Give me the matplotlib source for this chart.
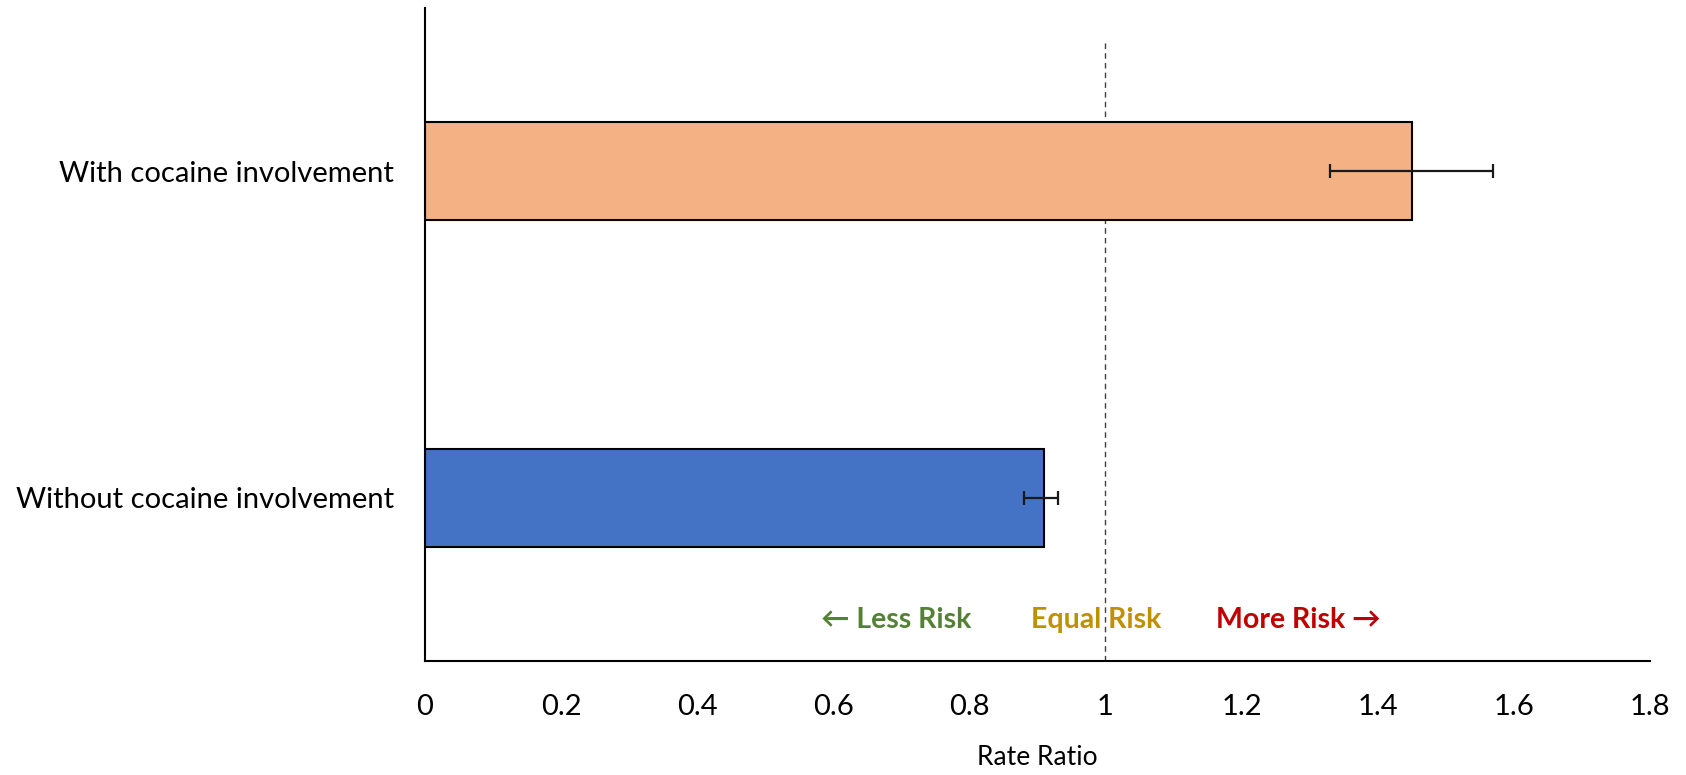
import matplotlib.pyplot as plt

# chart data
categories = ["Without cocaine involvement", "With cocaine involvement"]
rate_ratio = [0.91, 1.45]
ci_low = [0.88, 1.33]
ci_high = [0.93, 1.57]
bar_colors = ["#4472C4", "#F4B183"]
x_ticks = [0, 0.2, 0.4, 0.6, 0.8, 1, 1.2, 1.4, 1.6, 1.8]

plt.rcParams["font.family"] = ["Lato", "DejaVu Sans"]

fig = plt.figure(figsize=(16.86, 7.75), dpi=100)
ax = fig.add_axes([0.252, 0.147, 0.9786 - 0.252, 0.9897 - 0.147])

ypos = range(len(categories))
xerr = [[v - lo for v, lo in zip(rate_ratio, ci_low)],
        [hi - v for v, hi in zip(rate_ratio, ci_high)]]
ax.barh(ypos, rate_ratio, height=0.3, color=bar_colors,
        edgecolor="black", linewidth=1.5, zorder=2)
ax.errorbar(rate_ratio, ypos, xerr=xerr, fmt="none", ecolor="#1a1a1a",
            elinewidth=1.6, capsize=5, capthick=1.6, zorder=3)

# reference line at equal risk
ax.vlines(1, -0.5, 1.4, colors="#404040", linestyles=(0, (4, 3)),
          linewidth=1, zorder=1)

ax.set_xlim(0, 1.8)
ax.set_ylim(-0.5, 1.5)
ax.set_yticks(list(ypos))
ax.set_yticklabels(categories)
ax.set_xticks(x_ticks)
ax.set_xticklabels([f"{t:g}" for t in x_ticks])
ax.tick_params(length=0, labelsize=21)
ax.tick_params(axis="x", pad=24)
ax.tick_params(axis="y", pad=22)
ax.set_xlabel("Rate Ratio", fontsize=19, va="center")
ax.xaxis.set_label_coords(0.5, -0.148)

for s in ["top", "right"]:
    ax.spines[s].set_visible(False)
for s in ["left", "bottom"]:
    ax.spines[s].set_linewidth(1.5)

# risk annotations
ax.text(0.693, -0.374, "\u2190 Less Risk", color="#548235", fontsize=20.5,
        fontweight="bold", ha="center", va="center",
        family=["Lato", "DejaVu Sans"])
ax.text(0.987, -0.374, "Equal Risk", color="#BF9000", fontsize=20.5,
        fontweight="bold", ha="center", va="center")
ax.text(1.283, -0.374, "More Risk \u2192", color="#C00000", fontsize=20.5,
        fontweight="bold", ha="center", va="center",
        family=["Lato", "DejaVu Sans"])

fig.savefig("out.png", dpi=100)
